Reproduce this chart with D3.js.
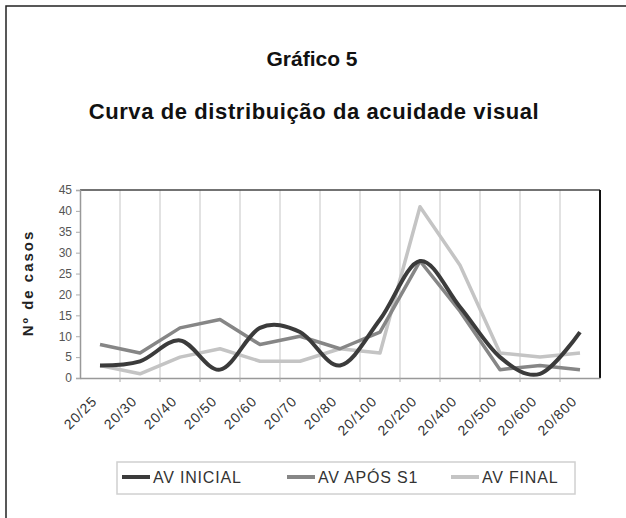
<!DOCTYPE html>
<html>
<head>
<meta charset="utf-8">
<script src="https://cdn.jsdelivr.net/npm/d3@7"></script>
<style>
  body { margin: 0; background: #fff; }
  svg { display: block; font-family: "Liberation Sans", Arial, sans-serif; }
</style>
</head>
<body>
<svg id="chart" width="626" height="518"></svg>
<script>
// values
const categories = ["20/25", "20/30", "20/40", "20/50", "20/60", "20/70", "20/80",
                    "20/100", "20/200", "20/400", "20/500", "20/600", "20/800"];
const avInicial = [3, 4, 9, 2, 12, 11, 3, 14, 28, 17, 5, 1, 11];
const avAposS1  = [8, 6, 12, 14, 8, 10, 7, 11, 28, 16, 2, 3, 2];
const avFinal   = [3, 1, 5, 7, 4, 4, 7, 6, 41, 27, 6, 5, 6];
const yTicks = [0, 5, 10, 15, 20, 25, 30, 35, 40, 45];
const seriesNames = ["AV INICIAL", "AV APÓS S1", "AV FINAL"];

const svg = d3.select("#chart");

// outer frame of the scanned page (only top and left are visible)
svg.append("path")
    .attr("d", "M6,518 L6,6 L626,6")
    .attr("fill", "none")
    .attr("stroke", "#222")
    .attr("stroke-width", 1.5);

// titles
svg.append("text")
    .attr("x", 312).attr("y", 66)
    .attr("text-anchor", "middle")
    .attr("font-weight", "bold")
    .attr("font-size", "21px")
    .attr("fill", "#111")
    .text("Gráfico 5");

svg.append("text")
    .attr("x", 314).attr("y", 119)
    .attr("text-anchor", "middle")
    .attr("font-weight", "bold")
    .attr("font-size", "22px")
    .attr("letter-spacing", "0.6px")
    .attr("fill", "#111")
    .text("Curva de distribuição da acuidade visual");

// plot area
const plotLeft = 80, plotRight = 600, plotTop = 190, plotBottom = 378;

const x = d3.scaleBand().domain(categories).range([plotLeft, plotRight]).padding(0);
const y = d3.scaleLinear().domain([0, 45]).range([plotBottom, plotTop]);

// vertical gridlines on the category boundaries
svg.append("g")
    .selectAll("line")
    .data(categories.slice(1))
    .enter()
    .append("line")
    .attr("x1", d => x(d)).attr("x2", d => x(d))
    .attr("y1", plotTop).attr("y2", plotBottom)
    .attr("stroke", "#cfcfcf")
    .attr("stroke-width", 1.2);

// frame of the plot area
svg.append("line").attr("x1", plotLeft).attr("x2", plotRight).attr("y1", plotTop).attr("y2", plotTop)
    .attr("stroke", "#444").attr("stroke-width", 1.5);
svg.append("line").attr("x1", plotRight).attr("x2", plotRight).attr("y1", plotTop).attr("y2", plotBottom)
    .attr("stroke", "#111").attr("stroke-width", 2);

// y axis
const yAxis = d3.axisLeft(y).tickValues(yTicks).tickSize(4).tickPadding(4);
const gy = svg.append("g")
    .attr("transform", `translate(${plotLeft},0)`)
    .call(yAxis);
gy.select(".domain").attr("stroke", "#999").attr("stroke-width", 1.5);
gy.selectAll(".tick line").attr("stroke", "#aaa");
gy.selectAll(".tick text")
    .attr("font-size", "12px")
    .attr("fill", "#555")
    .attr("font-family", "'Liberation Sans', Arial, sans-serif");

// x axis, labels rotated
const xAxis = d3.axisBottom(x).tickSize(0).tickPadding(0);
const gx = svg.append("g")
    .attr("transform", `translate(0,${plotBottom})`)
    .call(xAxis);
gx.select(".domain").attr("stroke", "#999").attr("stroke-width", 1.5);
gx.selectAll(".tick text")
    .attr("font-size", "14px")
    .attr("letter-spacing", "1px")
    .attr("fill", "#333")
    .attr("font-family", "'Liberation Sans', Arial, sans-serif")
    .attr("text-anchor", "end")
    .attr("dy", null)
    .attr("y", 0)
    .attr("transform", "translate(-2,24) rotate(-45)");

// small tick marks at the category boundaries below the axis
svg.append("g")
    .selectAll("line")
    .data(categories.slice(1))
    .enter()
    .append("line")
    .attr("x1", d => x(d)).attr("x2", d => x(d))
    .attr("y1", plotBottom).attr("y2", plotBottom + 4)
    .attr("stroke", "#aaa");

// lines
const cx = (d, i) => x(categories[i]) + x.bandwidth() / 2;

const straight = d3.line().x(cx).y(d => y(d));
const smooth = d3.line().x(cx).y(d => y(d)).curve(d3.curveCardinal.tension(0));

svg.append("path")
    .datum(avFinal)
    .attr("d", straight)
    .attr("fill", "none")
    .attr("stroke", "#c4c4c4")
    .attr("stroke-width", 3.5)
    .attr("stroke-linejoin", "round");

svg.append("path")
    .datum(avAposS1)
    .attr("d", straight)
    .attr("fill", "none")
    .attr("stroke", "#868686")
    .attr("stroke-width", 3.5)
    .attr("stroke-linejoin", "round");

svg.append("path")
    .datum(avInicial)
    .attr("d", smooth)
    .attr("fill", "none")
    .attr("stroke", "#3b3b3b")
    .attr("stroke-width", 4)
    .attr("stroke-linejoin", "round");

// y axis title
svg.append("text")
    .attr("transform", "translate(33,283) rotate(-90)")
    .attr("text-anchor", "middle")
    .attr("font-weight", "bold")
    .attr("font-size", "15px")
    .attr("letter-spacing", "2px")
    .attr("fill", "#222")
    .text("Nº de casos");

// legend
const legendColours = ["#3b3b3b", "#868686", "#c4c4c4"];
const legendX = [122, 287, 451];

svg.append("rect")
    .attr("x", 117).attr("y", 462)
    .attr("width", 458).attr("height", 32)
    .attr("fill", "none")
    .attr("stroke", "#d0d0d0")
    .attr("stroke-width", 1.5);

const items = svg.append("g")
    .selectAll("g")
    .data(seriesNames)
    .enter()
    .append("g")
    .attr("transform", (d, i) => `translate(${legendX[i]},477)`);

items.append("line")
    .attr("x1", 0).attr("x2", 28)
    .attr("stroke", (d, i) => legendColours[i])
    .attr("stroke-width", 4);

items.append("text")
    .attr("x", 31).attr("y", 6)
    .attr("font-size", "16px")
    .attr("letter-spacing", "0.8px")
    .attr("fill", "#333")
    .text(d => d);
</script>
</body>
</html>
